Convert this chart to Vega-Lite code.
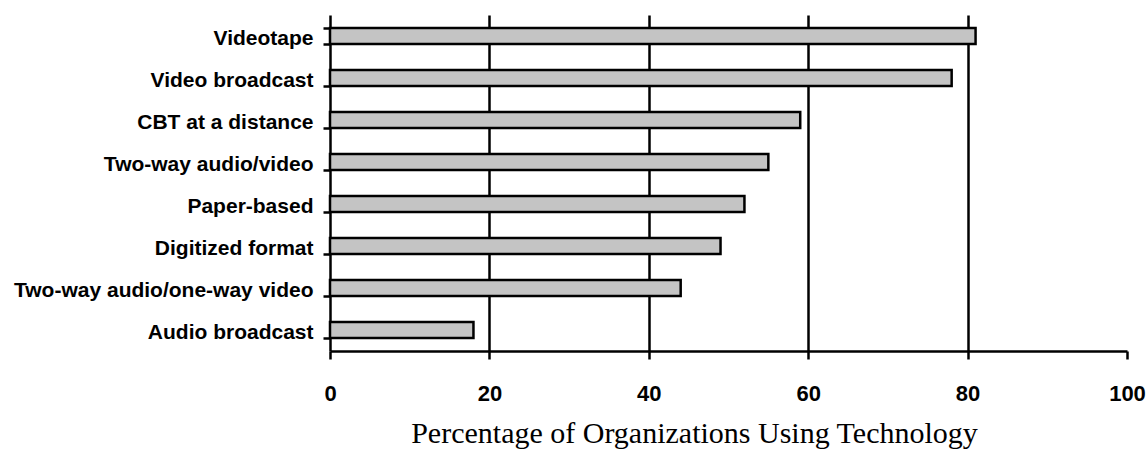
{
  "$schema": "https://vega.github.io/schema/vega-lite/v6.json",
  "width": 797,
  "height": 336,
  "autosize": {"type": "none"},
  "padding": {"left": 330, "top": 15, "right": 21, "bottom": 103},
  "background": "white",
  "data": {
    "values": [
      {"technology": "Videotape", "pct": 81},
      {"technology": "Video broadcast", "pct": 78},
      {"technology": "CBT at a distance", "pct": 59},
      {"technology": "Two-way audio/video", "pct": 55},
      {"technology": "Paper-based", "pct": 52},
      {"technology": "Digitized format", "pct": 49},
      {"technology": "Two-way audio/one-way video", "pct": 44},
      {"technology": "Audio broadcast", "pct": 18}
    ]
  },
  "mark": {"type": "bar", "fill": "#c4c4c4", "stroke": "black", "strokeWidth": 2.5},
  "encoding": {
    "y": {
      "field": "technology",
      "type": "nominal",
      "sort": null,
      "scale": {"paddingInner": 0.62, "paddingOuter": 0.31},
      "axis": {
        "title": null,
        "domainColor": "black",
        "domainWidth": 2.5,
        "tickColor": "black",
        "tickWidth": 2.5,
        "tickSize": 7,
        "tickBand": "extent",
        "labelFont": "Liberation Sans",
        "labelFontWeight": "bold",
        "labelFontSize": 21,
        "labelColor": "black",
        "labelPadding": 10,
        "labelLimit": 400,
        "labelOffset": 2
      }
    },
    "x": {
      "field": "pct",
      "type": "quantitative",
      "scale": {"domain": [0, 100], "nice": false},
      "axis": {
        "values": [0, 20, 40, 60, 80, 100],
        "grid": true,
        "gridColor": "black",
        "gridWidth": 2.5,
        "gridOpacity": {"condition": {"test": "datum.value == 100 || datum.value == 0", "value": 0}, "value": 1},
        "domainColor": "black",
        "domainWidth": 2.5,
        "tickColor": "black",
        "tickWidth": 2.5,
        "tickSize": 8,
        "labelFont": "Liberation Sans",
        "labelFontWeight": "bold",
        "labelFontSize": 22,
        "labelColor": "black",
        "labelPadding": 24,
        "labelFlush": false,
        "title": "Percentage of Organizations Using Technology",
        "titleFont": "Liberation Serif",
        "titleFontWeight": "normal",
        "titleFontSize": 30,
        "titleColor": "black",
        "titleBaseline": "alphabetic",
        "titleAlign": "center",
        "titleX": 364,
        "titleY": 91
      }
    }
  },
  "config": {"view": {"stroke": null}}
}
